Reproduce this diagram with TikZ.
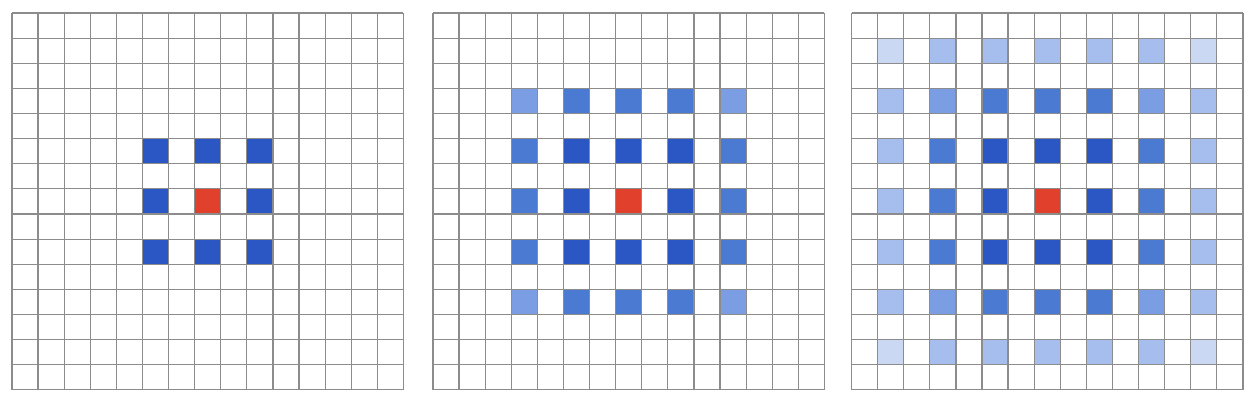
\documentclass[tikz,border=0pt]{standalone}
\usepackage{xcolor}

\definecolor{cellA}{HTML}{2A57C3}
\definecolor{cellB}{HTML}{4A7AD2}
\definecolor{cellC}{HTML}{7A9DE3}
\definecolor{cellD}{HTML}{A6BEEE}
\definecolor{cellE}{HTML}{CBD8F4}
\definecolor{centre}{HTML}{E0402C}

\tikzset{
  gridline/.style={draw=black!45, line width=0.7pt},
  panel/.style={x=0.522cm, y=-0.5026cm}
}

\begin{document}
\begin{tikzpicture}[x=0.02cm, y=-0.02cm]
\useasboundingbox (0,0) rectangle (1260,418);

% left panel, dilation 1
\begin{scope}[shift={(12,13)}, panel]
\foreach \c in {5,7,9} \foreach \r in {5,7,9} \fill[cellA] (\c,\r) rectangle ++(1,1);
\fill[centre] (7,7) rectangle ++(1,1);
\foreach \i in {0,...,15} {
  \draw[gridline] (\i,0) -- (\i,15);
  \draw[gridline] (0,\i) -- (15,\i);
}
\end{scope}

% middle panel, dilation 2
\begin{scope}[shift={(433,13)}, panel]
\foreach \c in {3,5,...,11} \foreach \r in {3,5,...,11} \fill[cellB] (\c,\r) rectangle ++(1,1);
\foreach \c/\r in {3/3,11/3,3/11,11/11} \fill[cellC] (\c,\r) rectangle ++(1,1);
\foreach \c in {5,7,9} \foreach \r in {5,7,9} \fill[cellA] (\c,\r) rectangle ++(1,1);
\fill[centre] (7,7) rectangle ++(1,1);
\foreach \i in {0,...,15} {
  \draw[gridline] (\i,0) -- (\i,15);
  \draw[gridline] (0,\i) -- (15,\i);
}
\end{scope}

% right panel, dilation 3
\begin{scope}[shift={(851.5,13)}, panel]
\foreach \c in {1,3,...,13} \foreach \r in {1,3,...,13} \fill[cellD] (\c,\r) rectangle ++(1,1);
\foreach \c/\r in {1/1,13/1,1/13,13/13} \fill[cellE] (\c,\r) rectangle ++(1,1);
\foreach \c in {3,5,...,11} \foreach \r in {3,5,...,11} \fill[cellB] (\c,\r) rectangle ++(1,1);
\foreach \c/\r in {3/3,11/3,3/11,11/11} \fill[cellC] (\c,\r) rectangle ++(1,1);
\foreach \c in {5,7,9} \foreach \r in {5,7,9} \fill[cellA] (\c,\r) rectangle ++(1,1);
\fill[centre] (7,7) rectangle ++(1,1);
\foreach \i in {0,...,15} {
  \draw[gridline] (\i,0) -- (\i,15);
  \draw[gridline] (0,\i) -- (15,\i);
}
\end{scope}
\end{tikzpicture}
\end{document}
